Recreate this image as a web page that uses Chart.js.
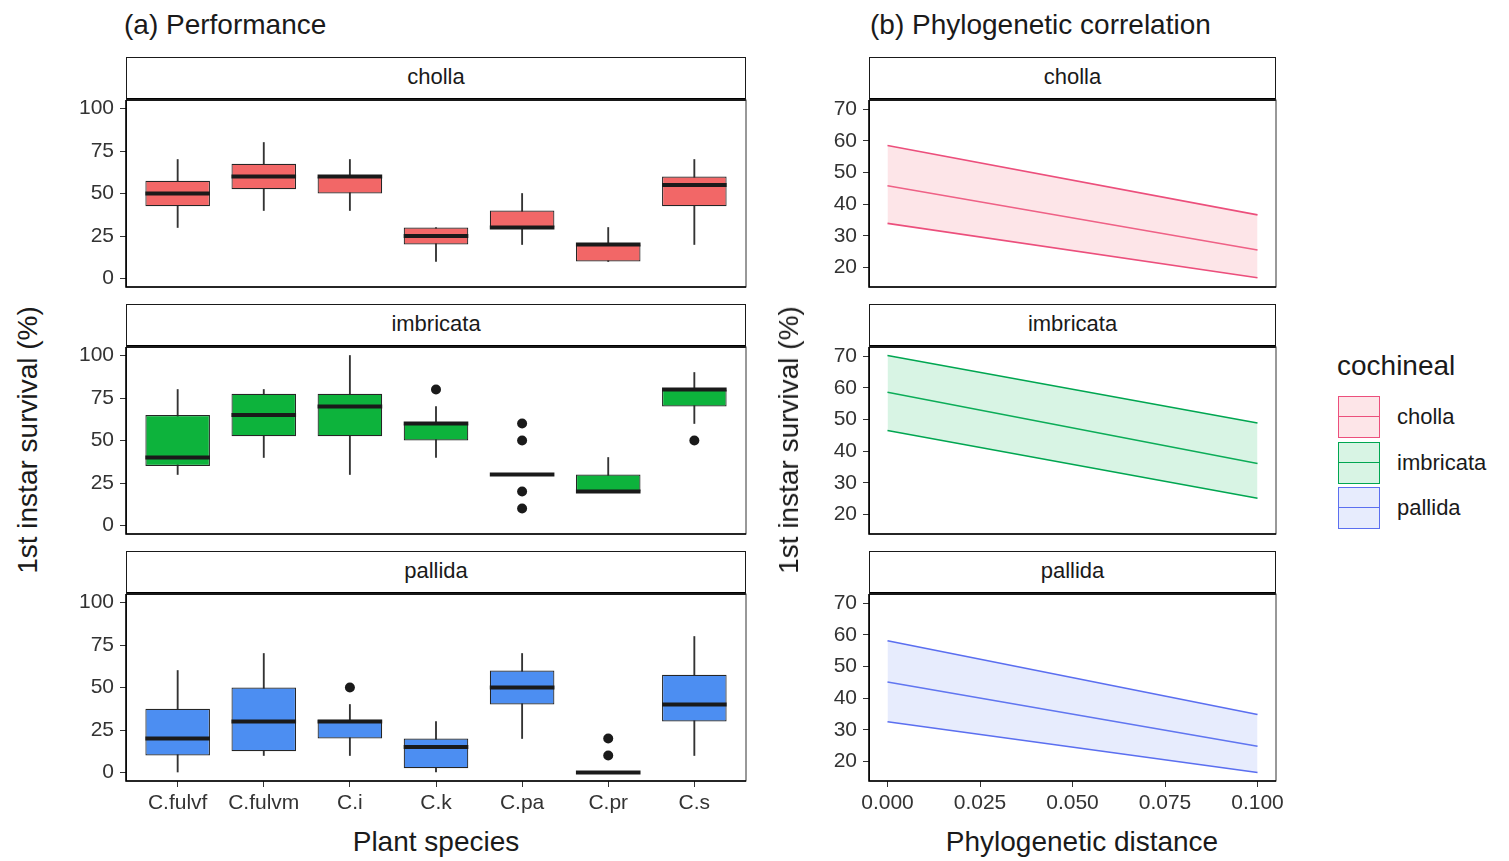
<!DOCTYPE html>
<html>
<head>
<meta charset="utf-8">
<script src="https://cdn.jsdelivr.net/npm/chart.js@4.4.0/dist/chart.umd.min.js"></script>
<style>
  body { margin: 0; background: #fff; font-family: "Liberation Sans", Arial, sans-serif; color: #1a1a1a; }
  #page { position: relative; width: 1509px; height: 861px; overflow: hidden; }
  .strip { position: absolute; box-sizing: border-box; border: 1.5px solid #1a1a1a; border-bottom: 3px solid #000;
           text-align: center; font-size: 22px; line-height: 38px; background: #fff; }
  .title { position: absolute; font-size: 28px; white-space: nowrap; }
  .ytitle { position: absolute; font-size: 28px; white-space: nowrap; transform: translate(-50%, -50%) rotate(-90deg); }
  .xtitle { position: absolute; font-size: 28px; white-space: nowrap; transform: translate(-50%, -50%); }
  .key { position: absolute; width: 42px; height: 42px; box-sizing: border-box; border: 1.5px solid; }
  .key i { position: absolute; left: 0; right: 0; top: 19px; height: 0; border-top: 1.5px solid; }
  .klab { position: absolute; font-size: 22px; }
</style>
</head>
<body>
<div id="page"></div>
<script>
// --- données ---
const species = ["C.fulvf", "C.fulvm", "C.i", "C.k", "C.pa", "C.pr", "C.s"];
const groups = ["cholla", "imbricata", "pallida"];

// min, q1, médiane, q3, max par espèce
const chollaStats = [[30, 42.5, 50, 57.5, 70], [40, 52.5, 60, 67.5, 80], [40, 50, 60, 60, 70],
  [10, 20, 25, 30, 30], [20, 30, 30, 40, 50], [10, 10, 20, 20, 30], [20, 42.5, 55, 60, 70]];
const imbricataStats = [[30, 35, 40, 65, 80], [40, 52.5, 65, 77.5, 80], [30, 52.5, 70, 77.5, 100],
  [40, 50, 60, 60, 70], [30, 30, 30, 30, 30], [20, 20, 20, 30, 40], [60, 70, 80, 80, 90]];
const pallidaStats = [[0, 10, 20, 37.5, 60], [10, 12.5, 30, 50, 70], [10, 20, 30, 31, 40],
  [0, 2.5, 15, 20, 30], [20, 40, 50, 60, 70], [0, 0, 0, 0, 0], [10, 30, 40, 57.5, 80]];

// valeurs aberrantes [espèce, valeur]
const chollaOut = [];
const imbricataOut = [["C.k", 80], ["C.pa", 60], ["C.pa", 50], ["C.pa", 20], ["C.pa", 10], ["C.s", 50]];
const pallidaOut = [["C.i", 50], ["C.pr", 20], ["C.pr", 10]];

const survivalTicks = [0, 25, 50, 75, 100];

// régression : distance phylogénétique
const phyloX = [0, 0.1];
const phyloTicks = [0, 0.025, 0.05, 0.075, 0.1];
const corrTicks = [20, 30, 40, 50, 60, 70];
const chollaFit = [45.8, 25.5], chollaLo = [33.9, 16.7], chollaHi = [58.5, 36.6];
const imbricataFit = [58.6, 36.1], imbricataLo = [46.5, 25.1], imbricataHi = [70.2, 48.9];
const pallidaFit = [45.1, 24.8], pallidaLo = [32.5, 16.5], pallidaHi = [58.1, 34.8];

const boxFill = { cholla: "#f26767", imbricata: "#0db33c", pallida: "#4c8ef2" };
const lineCol = { cholla: "#ec4f7c", imbricata: "#00a651", pallida: "#5b6ff0" };
const ribbonCol = { cholla: "rgba(248,150,165,0.25)", imbricata: "rgba(60,200,120,0.2)", pallida: "rgba(120,150,245,0.18)" };

const statsBy = { cholla: chollaStats, imbricata: imbricataStats, pallida: pallidaStats };
const outBy = { cholla: chollaOut, imbricata: imbricataOut, pallida: pallidaOut };
const fitBy = {
  cholla: [chollaLo, chollaHi, chollaFit],
  imbricata: [imbricataLo, imbricataHi, imbricataFit],
  pallida: [pallidaLo, pallidaHi, pallidaFit],
};

// --- mise en page ---
const page = document.getElementById("page");
const stripTops = [57, 304, 551];
const plotH = 187;
const left = { x: 126, w: 620, canvasX: 50, axisW: 76 };
const right = { x: 869, w: 407, canvasX: 800, axisW: 69 };
const font = "'Liberation Sans', Arial, sans-serif";

Chart.defaults.font.family = font;
Chart.defaults.color = "#333";

const addDiv = (cls, txt, css) => {
  const d = document.createElement("div");
  d.className = cls;
  if (txt) d.textContent = txt;
  Object.assign(d.style, css);
  page.appendChild(d);
  return d;
};

// cadre du panneau
const framePlugin = {
  id: "frame",
  afterDatasetsDraw(chart) {
    const { ctx, chartArea: a } = chart;
    ctx.save();
    ctx.strokeStyle = "#333";
    ctx.lineWidth = 1;
    ctx.strokeRect(a.left + 0.5, a.top, a.right - a.left - 0.5, a.bottom - a.top);
    ctx.strokeStyle = "#000";
    ctx.lineWidth = 1.6;
    ctx.beginPath();
    ctx.moveTo(a.left, a.top);
    ctx.lineTo(a.left, a.bottom);
    ctx.lineTo(a.right, a.bottom);
    ctx.stroke();
    ctx.restore();
  },
};

const makeCanvas = (col, row, last) => {
  const c = document.createElement("canvas");
  const top = stripTops[row] + 43 - 14;
  const h = 14 + plotH + (last ? 44 : 14);
  const w = col.x + col.w + 20 - col.canvasX;
  c.width = w; c.height = h;
  Object.assign(c.style, { position: "absolute", left: col.canvasX + "px", top: top + "px", width: w + "px", height: h + "px" });
  page.appendChild(c);
  return c;
};

const tickGrid = { drawOnChartArea: false, drawTicks: true, tickLength: 6, color: "#333", offset: false };

const yAxis = (col, min, max, ticks) => ({
  type: "linear", min, max,
  afterBuildTicks: (s) => { s.ticks = ticks.map((v) => ({ value: v })); },
  afterFit: (s) => { s.width = col.axisW; s.paddingTop = 0; s.paddingBottom = 0; },
  grid: tickGrid,
  border: { display: false },
  ticks: { font: { size: 21 }, color: "#333", padding: 6 },
});

const xAxis = (last, min, max, ticks, fmt) => ({
  type: "linear", min, max, display: last, offset: false,
  afterBuildTicks: (s) => { s.ticks = ticks.map((v) => ({ value: v })); },
  afterFit: (s) => { s.height = last ? 44 : 0; s.paddingLeft = 0; s.paddingRight = 0; },
  grid: tickGrid,
  border: { display: false },
  ticks: { font: { size: 21 }, color: "#333", padding: 4, maxRotation: 0, autoSkip: false, callback: fmt },
});

const baseOptions = (last) => ({
  responsive: false, animation: false, events: [],
  layout: { autoPadding: false, padding: { left: 0, right: 20, top: 14, bottom: last ? 0 : 14 } },
  plugins: { legend: { display: false }, tooltip: { enabled: false } },
});

// (a) boîtes à moustaches
groups.forEach((g, row) => {
  const last = row === 2;
  const stats = statsBy[g];
  addDiv("strip", g, { left: left.x + "px", top: stripTops[row] + "px", width: left.w + "px", height: "44px" });
  new Chart(makeCanvas(left, row, last), {
    type: "bar",
    data: {
      datasets: [
        {
          type: "line", order: 0, showLine: false,
          data: outBy[g].map(([s, v]) => ({ x: species.indexOf(s), y: v })),
          pointRadius: 5, pointBackgroundColor: "#1a1a1a", pointBorderWidth: 0,
        },
        {
          type: "line", order: 1, showLine: false,
          data: stats.map((s, i) => ({ x: i, y: s[2] })),
          pointStyle: "line", pointRadius: 32.3, pointBorderWidth: 3.8, pointBorderColor: "#1a1a1a",
        },
        {
          order: 2, grouped: false,
          data: stats.map((s, i) => ({ x: i, y: [s[1], s[3]] })),
          backgroundColor: boxFill[g], borderColor: "#262626", borderWidth: 1.2, borderSkipped: false,
          categoryPercentage: 1, barPercentage: 0.75,
        },
        {
          order: 3, grouped: false,
          data: stats.map((s, i) => ({ x: i, y: [s[0], s[4]] })),
          backgroundColor: "#333", barThickness: 1.2,
        },
      ],
    },
    options: {
      ...baseOptions(last),
      scales: {
        x: xAxis(last, -0.6, 6.6, species.map((_, i) => i), (v) => species[v]),
        y: yAxis(left, -5, 105, survivalTicks),
      },
    },
    plugins: [framePlugin],
  });
});

// (b) corrélation phylogénétique
groups.forEach((g, row) => {
  const last = row === 2;
  const [lo, hi, fit] = fitBy[g];
  const pts = (arr) => arr.map((v, i) => ({ x: phyloX[i], y: v }));
  addDiv("strip", g, { left: right.x + "px", top: stripTops[row] + "px", width: right.w + "px", height: "44px" });
  new Chart(makeCanvas(right, row, last), {
    type: "line",
    data: {
      datasets: [
        { data: pts(lo), borderColor: lineCol[g], borderWidth: 1.6, pointRadius: 0, fill: false },
        { data: pts(hi), borderColor: lineCol[g], borderWidth: 1.6, pointRadius: 0, fill: "-1", backgroundColor: ribbonCol[g] },
        { data: pts(fit), borderColor: lineCol[g], borderWidth: 1.6, pointRadius: 0, fill: false },
      ],
    },
    options: {
      ...baseOptions(last),
      scales: {
        x: xAxis(last, -0.005, 0.105, phyloTicks, (v) => v.toFixed(3)),
        y: yAxis(right, 13.8, 72.9, corrTicks),
      },
    },
    plugins: [framePlugin],
  });
});

// textes
addDiv("title", "(a) Performance", { left: "124px", top: "9px" });
addDiv("title", "(b) Phylogenetic correlation", { left: "870px", top: "9px" });
addDiv("ytitle", "1st instar survival (%)", { left: "28px", top: "440px" });
addDiv("ytitle", "1st instar survival (%)", { left: "789px", top: "440px" });
addDiv("xtitle", "Plant species", { left: "436px", top: "842px" });
addDiv("xtitle", "Phylogenetic distance", { left: "1082px", top: "842px" });

// légende
addDiv("title", "cochineal", { left: "1337px", top: "350px" });
groups.forEach((g, i) => {
  const top = 396 + i * 45.5;
  const k = addDiv("key", "", { left: "1338px", top: top + "px", borderColor: lineCol[g], background: ribbonCol[g] });
  const line = document.createElement("i");
  line.style.borderColor = lineCol[g];
  k.appendChild(line);
  addDiv("klab", g, { left: "1397px", top: top + 8 + "px" });
});
</script>
</body>
</html>
